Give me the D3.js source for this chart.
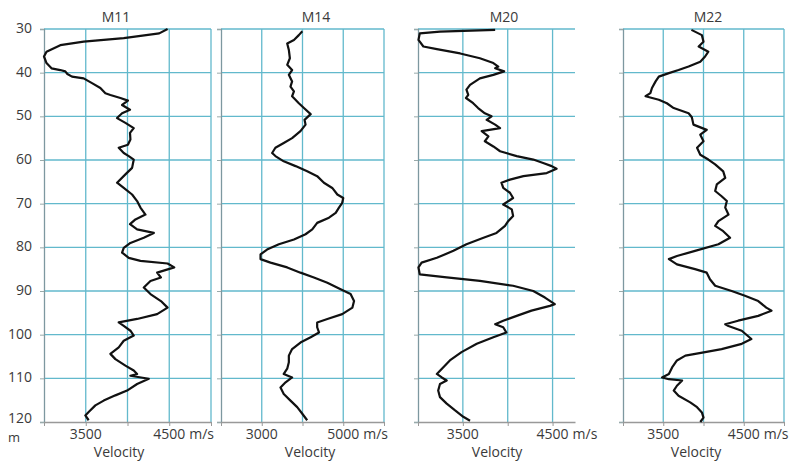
<!DOCTYPE html>
<html>
<head>
<meta charset="utf-8">
<script src="https://cdn.jsdelivr.net/npm/d3@7"></script>
<style>
    body { margin: 0; background: #fff; }
    text { font-family: "Open Sans", sans-serif; fill: #3a3a3a; }
</style>
</head>
<body>
<svg id="chart" width="793" height="464"></svg>
<script>
// depth (m) vs velocity (m/s)
const depthTicks = [30, 40, 50, 60, 70, 80, 90, 100, 110, 120];
const wellNames = ["M11", "M14", "M20", "M22"];

const m11 = [
    [30, 4480], [31, 4380], [32.1, 3955], [32.9, 3475], [33.7, 3195], [35.2, 3030], [36.3, 3000],
    [37.8, 3030], [39, 3090], [39.4, 3195], [39.7, 3255], [40.3, 3280], [40.9, 3335], [41.3, 3475],
    [42.4, 3575], [43.5, 3675], [44.7, 3735], [45.1, 3795], [45.8, 3915], [46.4, 4005], [47.4, 3935],
    [48.5, 4030], [49.3, 3935], [50.4, 3875], [51.5, 3975], [52.7, 4075], [53.8, 4030], [55.3, 4035],
    [56.5, 4005], [57.2, 3895], [58.4, 3955], [59.1, 4015], [59.9, 4075], [61.8, 4055], [63.3, 3975],
    [65.2, 3875], [66.4, 3955], [67.9, 4055], [69.4, 4115], [70.9, 4155], [72.5, 4215], [73.6, 4095],
    [74.7, 4030], [75.9, 4115], [76.7, 4315], [77.8, 4195], [79, 4035], [80.1, 3955], [81.2, 3935],
    [82.4, 4015], [83.1, 4155], [83.7, 4480], [84.6, 4560], [85.8, 4355], [86.9, 4400], [87.7, 4275],
    [89.2, 4195], [90.7, 4275], [92.3, 4400], [93.8, 4480], [95.3, 4355], [96.4, 4115], [97.2, 3895],
    [98, 3955], [99.1, 4035], [100.2, 4075], [101.4, 3955], [102.9, 3895], [104.4, 3795], [105.6, 3855],
    [107.1, 3975], [108.2, 4075], [109, 4115], [109.4, 4035], [110.1, 4255], [111.3, 4115], [112.8, 3995],
    [113.9, 3855], [115.1, 3715], [116.2, 3615], [117.7, 3535], [118.5, 3495], [119.6, 3535]
];

const m14 = [
    [30.5, 3995], [31.4, 3910], [32.5, 3790], [33.3, 3625], [34.8, 3665], [36.7, 3690], [38.2, 3625],
    [39.4, 3745], [40.5, 3665], [42, 3745], [43.2, 3705], [44.3, 3790], [45.4, 3745], [47, 3910],
    [48.1, 4035], [49.5, 4200], [50.8, 4050], [51.9, 4075], [53.4, 3950], [55, 3745], [56.1, 3540],
    [57.2, 3335], [58.4, 3255], [59.1, 3335], [60.3, 3540], [61.4, 3830], [62.6, 4115], [63.7, 4360],
    [65.2, 4525], [66.4, 4730], [67.9, 4855], [68.7, 5000], [69.8, 4975], [70.9, 4895], [72.1, 4815],
    [73.2, 4650], [74.4, 4360], [75.9, 4240], [77, 4075], [78.2, 3790], [79.3, 3420], [80.5, 3130],
    [81.6, 2970], [82.7, 2970], [83.5, 3215], [84.6, 3625], [85.8, 3950], [86.9, 4280], [88.1, 4610],
    [89.6, 4935], [90.7, 5180], [92.3, 5265], [93.8, 5225], [95.3, 4975], [96.4, 4610], [97.2, 4360],
    [98.3, 4360], [99.5, 4405], [100.6, 4200], [101.8, 3950], [103.3, 3745], [104.8, 3665], [106.3, 3665],
    [107.8, 3625], [109, 3540], [109.8, 3745], [110.9, 3585], [112.1, 3460], [113.6, 3540], [115.1, 3705],
    [116.6, 3870], [118.1, 3995], [119.6, 4115]
];

const m20 = [
    [30.2, 3860], [30.6, 3245], [31, 3020], [32.5, 3005], [34, 3060], [34.6, 3210], [35.6, 3470],
    [36.7, 3690], [37.8, 3840], [38.6, 3895], [39, 3860], [39.7, 3960], [40.5, 3840], [41.3, 3690],
    [42.8, 3580], [43.9, 3540], [45.1, 3560], [45.8, 3535], [47, 3615], [48.1, 3670], [49.3, 3745],
    [50, 3820], [50.8, 3765], [51.9, 3860], [52.7, 3915], [53.4, 3710], [54.6, 3785], [55.7, 3745],
    [56.9, 3840], [58, 3915], [59.1, 4100], [59.9, 4285], [60.7, 4395], [61.4, 4490], [62, 4545],
    [63, 4435], [63.7, 4175], [64.5, 4025], [65.2, 3930], [66.4, 3950], [67.5, 4025], [68.7, 4060],
    [70.2, 3950], [71.3, 4045], [72.8, 4060], [74, 4005], [75.1, 3970], [76.7, 3875], [77.8, 3730],
    [79.3, 3540], [80.8, 3395], [82.4, 3210], [83.5, 3040], [84.6, 3005], [86.2, 3020], [86.9, 3320],
    [87.7, 3690], [88.8, 4060], [90, 4285], [91.5, 4415], [93, 4525], [93.4, 4470], [94.5, 4265],
    [95.7, 4100], [96.8, 3950], [97.6, 3860], [98.3, 3950], [99.5, 3985], [100.6, 3840], [102.1, 3655],
    [104, 3485], [105.9, 3355], [107.5, 3280], [109, 3210], [109.8, 3265], [110.5, 3320], [111.3, 3245],
    [112.8, 3225], [114.3, 3245], [115.8, 3320], [117.3, 3410], [118.8, 3505], [119.7, 3580]
];

const m22 = [
    [30.2, 3850], [31.4, 3980], [32.9, 4000], [34, 3940], [35.2, 4060], [36.3, 4020], [37.5, 3960],
    [38.6, 3815], [39.4, 3690], [40.1, 3570], [40.9, 3445], [42, 3405], [43.5, 3360], [44.7, 3340],
    [45.4, 3280], [46.2, 3445], [47, 3545], [48.1, 3630], [49.3, 3815], [50.2, 3855], [51.9, 3875],
    [53.1, 4040], [54.2, 3960], [55.7, 4000], [57.2, 3920], [58.8, 3960], [59.9, 4060], [61, 4145],
    [62.6, 4245], [64.1, 4270], [65.6, 4165], [67.1, 4145], [68.3, 4225], [69.4, 4290], [70.9, 4270],
    [72.5, 4310], [74, 4185], [75.1, 4145], [76.3, 4245], [77.8, 4330], [79.3, 4185], [80.8, 3895],
    [82, 3670], [82.7, 3570], [83.9, 3670], [85, 3895], [85.8, 4040], [87.3, 4080], [88.8, 4145],
    [90, 4350], [91.1, 4515], [92.3, 4680], [93.8, 4780], [94.5, 4845], [95.7, 4680], [96.8, 4430],
    [97.6, 4270], [98, 4310], [99.1, 4475], [101, 4595], [102.1, 4475], [103.3, 4225], [104, 4020],
    [104.8, 3775], [105.9, 3670], [107.5, 3610], [109, 3570], [109.8, 3485], [110.2, 3570], [110.5, 3735],
    [111.7, 3670], [112.8, 3630], [114, 3690], [115.5, 3835], [116.6, 3920], [117.8, 3980], [119, 4000],
    [120, 3960]
];

const wellData = [m11, m14, m20, m22];
const velDomains = [[3000, 5000], [2000, 6000], [3000, 4750], [3000, 5000]];
const gridTicks = [[3500, 4000, 4500, 5000], [3000, 4000, 5000, 6000], [3500, 4000, 4500], [3500, 4000, 4500, 5000]];
const labelTicks = [[3500, 4500], [3000, 5000], [3500, 4500], [3500, 4500]];

// layout
const panelX = [[44, 211], [221, 384], [418, 575], [623, 784]];
const titleX = [116, 316, 504, 708];
const axisTitleX = [119, 310, 497, 696];
const gridColor = "#62b9cc";

const svg = d3.select("#chart");
const y = d3.scaleLinear().domain([30, 120]).range([29, 422]);

wellNames.forEach((name, i) => {
    const x = d3.scaleLinear().domain(velDomains[i]).range(panelX[i]);
    const g = svg.append("g").attr("class", "panel");
    const [x0, x1] = panelX[i];

    // horizontal grid
    g.selectAll("line.hgrid")
        .data(depthTicks.slice(0, -1))
        .join("line")
        .attr("class", "hgrid")
        .attr("x1", x0).attr("x2", x1)
        .attr("y1", (d) => y(d)).attr("y2", (d) => y(d))
        .attr("stroke", gridColor)
        .attr("stroke-width", 1.3);

    // vertical grid
    g.selectAll("line.vgrid")
        .data(gridTicks[i])
        .join("line")
        .attr("class", "vgrid")
        .attr("x1", (d) => x(d)).attr("x2", (d) => x(d))
        .attr("y1", y(30)).attr("y2", y(120))
        .attr("stroke", gridColor)
        .attr("stroke-width", 1.3);

    // left axis with small ticks
    const left = g.append("g").attr("transform", `translate(${x0},0)`)
        .call(d3.axisLeft(y).tickValues(depthTicks).tickSize(4).tickFormat(""));
    left.select(".domain").attr("stroke", "#7d98a0").attr("stroke-width", 1.3);
    left.selectAll(".tick line").attr("stroke", "#9aa");

    // bottom axis
    const bottom = g.append("g").attr("transform", `translate(0,${y(120)})`)
        .call(d3.axisBottom(x).tickValues([velDomains[i][0]].concat(gridTicks[i])).tickSize(4).tickSizeOuter(0).tickFormat(""));
    bottom.select(".domain").attr("stroke", "#999").attr("stroke-width", 1.3);
    bottom.selectAll(".tick line").attr("stroke", "#999");

    // velocity log
    const line = d3.line().x((d) => x(d[1])).y((d) => y(d[0]));
    g.append("path")
        .datum(wellData[i])
        .attr("d", line)
        .attr("fill", "none")
        .attr("stroke", "#111")
        .attr("stroke-width", 2.2)
        .attr("stroke-linejoin", "round");

    // titles
    g.append("text")
        .attr("x", titleX[i]).attr("y", 22)
        .attr("text-anchor", "middle")
        .attr("font-size", 14)
        .text(name);

    labelTicks[i].forEach((v, k) => {
        const t = g.append("text")
            .attr("x", x(v)).attr("y", 439)
            .attr("text-anchor", "middle")
            .attr("font-size", 14)
            .text(v);
        if (k === labelTicks[i].length - 1) {
            const b = t.node().getBBox();
            g.append("text")
                .attr("x", b.x + b.width + 4).attr("y", 439)
                .attr("font-size", 14)
                .text("m/s");
        }
    });

    g.append("text")
        .attr("x", axisTitleX[i]).attr("y", 457)
        .attr("text-anchor", "middle")
        .attr("font-size", 14)
        .text("Velocity");
});

// depth labels on the first panel only
svg.selectAll("text.depth")
    .data(depthTicks)
    .join("text")
    .attr("class", "depth")
    .attr("x", 32)
    .attr("y", (d) => y(d) + (d === 120 ? 1 : 4))
    .attr("text-anchor", "end")
    .attr("font-size", 14)
    .text((d) => d);

// unit under the last depth label
svg.append("text")
    .attr("x", 14).attr("y", 442)
    .attr("text-anchor", "middle")
    .attr("font-size", 13)
    .text("m");
</script>
</body>
</html>
